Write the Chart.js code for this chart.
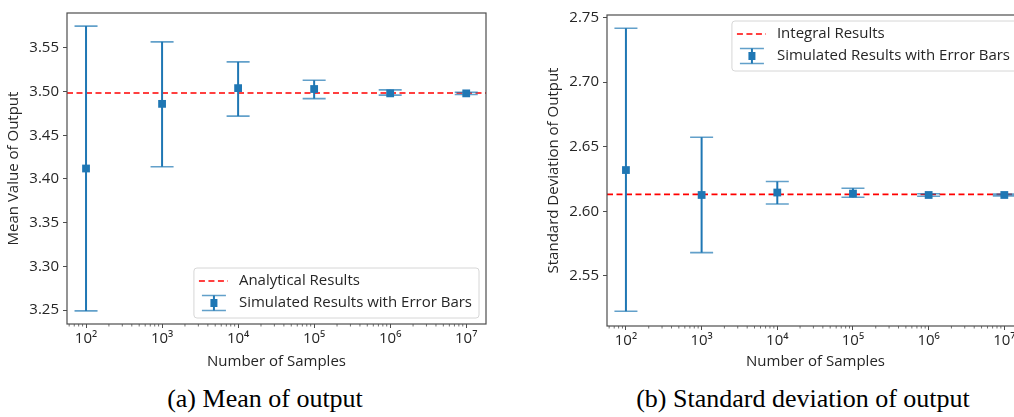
<!DOCTYPE html>
<html>
<head>
<meta charset="utf-8">
<script src="https://cdn.jsdelivr.net/npm/chart.js@4.4.0/dist/chart.umd.min.js"></script>
<style>
html, body { margin: 0; padding: 0; background: #fff; }
body { width: 1014px; height: 417px; position: relative; overflow: hidden; }
.box { position: absolute; top: 0; height: 380px; }
.caption {
    position: absolute; top: 384px;
    font-family: "Liberation Serif", "Times New Roman", serif;
    font-size: 26px; line-height: 30px; color: #000;
    white-space: nowrap; transform: translateX(-50%);
}
</style>
</head>
<body>
<div class="box" style="left:0;width:500px"><canvas id="meanChart"></canvas></div>
<div class="box" style="left:540px;width:498px"><canvas id="stdChart"></canvas></div>
<div class="caption" style="left:265px">(a) Mean of output</div>
<div class="caption" style="left:803px">(b) Standard deviation of output</div>
<script>
// data
var sampleSizes = [1e2, 1e3, 1e4, 1e5, 1e6, 1e7];
var xTickLabels = ['10²', '10³', '10⁴', '10⁵', '10⁶', '10⁷'];

var meanValues = [3.412, 3.486, 3.504, 3.503, 3.498, 3.498];
var meanLower  = [3.249, 3.414, 3.472, 3.492, 3.496, 3.4967];
var meanUpper  = [3.575, 3.557, 3.534, 3.513, 3.502, 3.4993];
var analyticalMean = 3.4985;
var meanTicks = [3.25, 3.30, 3.35, 3.40, 3.45, 3.50, 3.55];

var stdValues = [2.632, 2.6127, 2.6146, 2.6138, 2.6127, 2.6127];
var stdLower  = [2.5227, 2.5681, 2.6057, 2.6109, 2.6117, 2.612];
var stdUpper  = [2.7417, 2.6574, 2.6231, 2.6179, 2.6137, 2.6134];
var integralStd = 2.6132;
var stdTicks = [2.55, 2.60, 2.65, 2.70, 2.75];

var xMin = 56.2, xMax = 1.82e7;

var blue = '#1f77b4';
var capColor = 'rgba(31,119,180,0.7)';
var axisColor = '#4d4d4d';
var textColor = '#262626';
var fontFamily = '"Open Sans", "DejaVu Sans", sans-serif';

Chart.defaults.font.family = fontFamily;
Chart.defaults.font.size = 15;
Chart.defaults.color = textColor;

// vertical error bars with caps, drawn just before the marker dataset
var errorBars = {
    id: 'errorBars',
    beforeDatasetDraw: function (chart, args) {
        var ds = chart.data.datasets[args.index];
        if (!ds.lower) return;
        var xs = chart.scales.x, ys = chart.scales.y, ctx = chart.ctx;
        ctx.save();
        for (var i = 0; i < ds.data.length; i++) {
            var px = xs.getPixelForValue(ds.data[i].x);
            var top = ys.getPixelForValue(ds.upper[i]);
            var bot = ys.getPixelForValue(ds.lower[i]);
            ctx.strokeStyle = blue;
            ctx.lineWidth = 2;
            ctx.beginPath();
            ctx.moveTo(px, top);
            ctx.lineTo(px, bot);
            ctx.stroke();
            ctx.strokeStyle = capColor;
            ctx.lineWidth = 1.6;
            ctx.beginPath();
            ctx.moveTo(px - 11.5, top); ctx.lineTo(px + 11.5, top);
            ctx.moveTo(px - 11.5, bot); ctx.lineTo(px + 11.5, bot);
            ctx.stroke();
        }
        ctx.restore();
    }
};

// full box around the plot + log minor ticks
var frame = {
    id: 'frame',
    afterDatasetsDraw: function (chart) {
        var a = chart.chartArea, ctx = chart.ctx, xs = chart.scales.x;
        ctx.save();
        ctx.strokeStyle = axisColor;
        ctx.lineWidth = 1.2;
        ctx.strokeRect(a.left, a.top, a.right - a.left, a.bottom - a.top);
        ctx.lineWidth = 0.8;
        ctx.beginPath();
        for (var d = 1; d <= 7; d++) {
            for (var k = 2; k <= 9; k++) {
                var v = k * Math.pow(10, d);
                if (v < xMin || v > xMax) continue;
                var px = xs.getPixelForValue(v);
                ctx.moveTo(px, a.bottom);
                ctx.lineTo(px, a.bottom + 2.5);
            }
        }
        ctx.stroke();
        ctx.restore();
    }
};

// matplotlib-like legend inside the axes
var insetLegend = {
    id: 'insetLegend',
    afterDraw: function (chart, args, opts) {
        var ctx = chart.ctx, a = chart.chartArea;
        var line = chart.data.datasets[0], pts = chart.data.datasets[1];
        ctx.save();
        ctx.font = '15px ' + fontFamily;
        var tw = Math.max(ctx.measureText(line.label).width, ctx.measureText(pts.label).width);
        var w = 45 + tw + 7, h = 50;
        var left = a.right - 7 - w;
        var top = opts.position === 'top' ? a.top + 6 : a.bottom - 6 - h;
        ctx.beginPath();
        ctx.roundRect(left, top, w, h, 3);
        ctx.fillStyle = 'rgba(255,255,255,0.8)';
        ctx.fill();
        ctx.strokeStyle = '#d6d6d6';
        ctx.lineWidth = 1;
        ctx.stroke();

        var y1 = top + 13, y2 = top + 35;
        ctx.setLineDash(line.borderDash);
        ctx.strokeStyle = line.borderColor;
        ctx.lineWidth = line.borderWidth;
        ctx.beginPath();
        ctx.moveTo(left + 5, y1);
        ctx.lineTo(left + 34, y1);
        ctx.stroke();
        ctx.setLineDash([]);

        var cx = left + 20;
        ctx.strokeStyle = blue;
        ctx.lineWidth = 2;
        ctx.beginPath();
        ctx.moveTo(cx, y2 - 7.5);
        ctx.lineTo(cx, y2 + 7.5);
        ctx.stroke();
        ctx.strokeStyle = capColor;
        ctx.lineWidth = 1.6;
        ctx.beginPath();
        ctx.moveTo(cx - 12, y2 - 7.5); ctx.lineTo(cx + 12, y2 - 7.5);
        ctx.moveTo(cx - 12, y2 + 7.5); ctx.lineTo(cx + 12, y2 + 7.5);
        ctx.stroke();
        ctx.fillStyle = blue;
        ctx.fillRect(cx - 3.5, y2 - 4, 7, 8);

        ctx.fillStyle = textColor;
        ctx.textBaseline = 'middle';
        ctx.textAlign = 'left';
        ctx.fillText(line.label, left + 45, y1);
        ctx.fillText(pts.label, left + 45, y2);
        ctx.restore();
    }
};

function makeChart(id, cfg) {
    var points = sampleSizes.map(function (s, i) { return {x: s, y: cfg.values[i]}; });
    return new Chart(document.getElementById(id), {
        data: {
            datasets: [{
                type: 'line',
                label: cfg.refLabel,
                data: [{x: xMin, y: cfg.refValue}, {x: xMax, y: cfg.refValue}],
                borderColor: '#ff0000',
                borderDash: [6, 3.5],
                borderWidth: 1.6,
                pointRadius: 0,
                order: 1
            }, {
                type: 'scatter',
                label: 'Simulated Results with Error Bars',
                data: points,
                lower: cfg.lower,
                upper: cfg.upper,
                pointStyle: 'rect',
                pointRadius: 5.5,
                backgroundColor: blue,
                borderWidth: 0,
                order: 0
            }]
        },
        options: {
            responsive: true,
            maintainAspectRatio: false,
            animation: false,
            events: [],
            layout: { padding: { top: cfg.padTop, right: 14, left: 0, bottom: 0 } },
            plugins: {
                legend: { display: false },
                tooltip: { enabled: false },
                insetLegend: { position: cfg.legendPos }
            },
            scales: {
                x: {
                    type: 'logarithmic',
                    min: xMin,
                    max: xMax,
                    afterBuildTicks: function (s) {
                        s.ticks = sampleSizes.map(function (v) { return {value: v}; });
                    },
                    afterFit: function (s) { s.height = cfg.xHeight; },
                    ticks: {
                        autoSkip: false,
                        maxRotation: 0,
                        padding: 2,
                        callback: function (v) {
                            var i = sampleSizes.indexOf(v);
                            return i < 0 ? '' : xTickLabels[i];
                        }
                    },
                    grid: { drawOnChartArea: false, drawTicks: true, tickLength: 4, tickColor: axisColor },
                    border: { display: false },
                    title: { display: true, text: 'Number of Samples', padding: { top: 0, bottom: 9 } }
                },
                y: {
                    min: cfg.yMin,
                    max: cfg.yMax,
                    afterBuildTicks: function (s) {
                        s.ticks = cfg.yTicks.map(function (v) { return {value: v}; });
                    },
                    afterFit: function (s) { s.width = 67; },
                    ticks: {
                        padding: 4,
                        callback: function (v) { return v.toFixed(2); }
                    },
                    grid: { drawOnChartArea: false, drawTicks: true, tickLength: 4, tickColor: axisColor },
                    border: { display: false },
                    title: { display: true, text: cfg.yTitle, padding: { top: 4.5, bottom: 0 } }
                }
            }
        },
        plugins: [errorBars, frame, insetLegend]
    });
}

makeChart('meanChart', {
    values: meanValues, lower: meanLower, upper: meanUpper,
    refValue: analyticalMean, refLabel: 'Analytical Results',
    yMin: 3.234, yMax: 3.590, yTicks: meanTicks,
    yTitle: 'Mean Value of Output',
    padTop: 12, xHeight: 56, legendPos: 'bottom'
});

makeChart('stdChart', {
    values: stdValues, lower: stdLower, upper: stdUpper,
    refValue: integralStd, refLabel: 'Integral Results',
    yMin: 2.5113, yMax: 2.752, yTicks: stdTicks,
    yTitle: 'Standard Deviation of Output',
    padTop: 15, xHeight: 54, legendPos: 'top'
});
</script>
</body>
</html>
